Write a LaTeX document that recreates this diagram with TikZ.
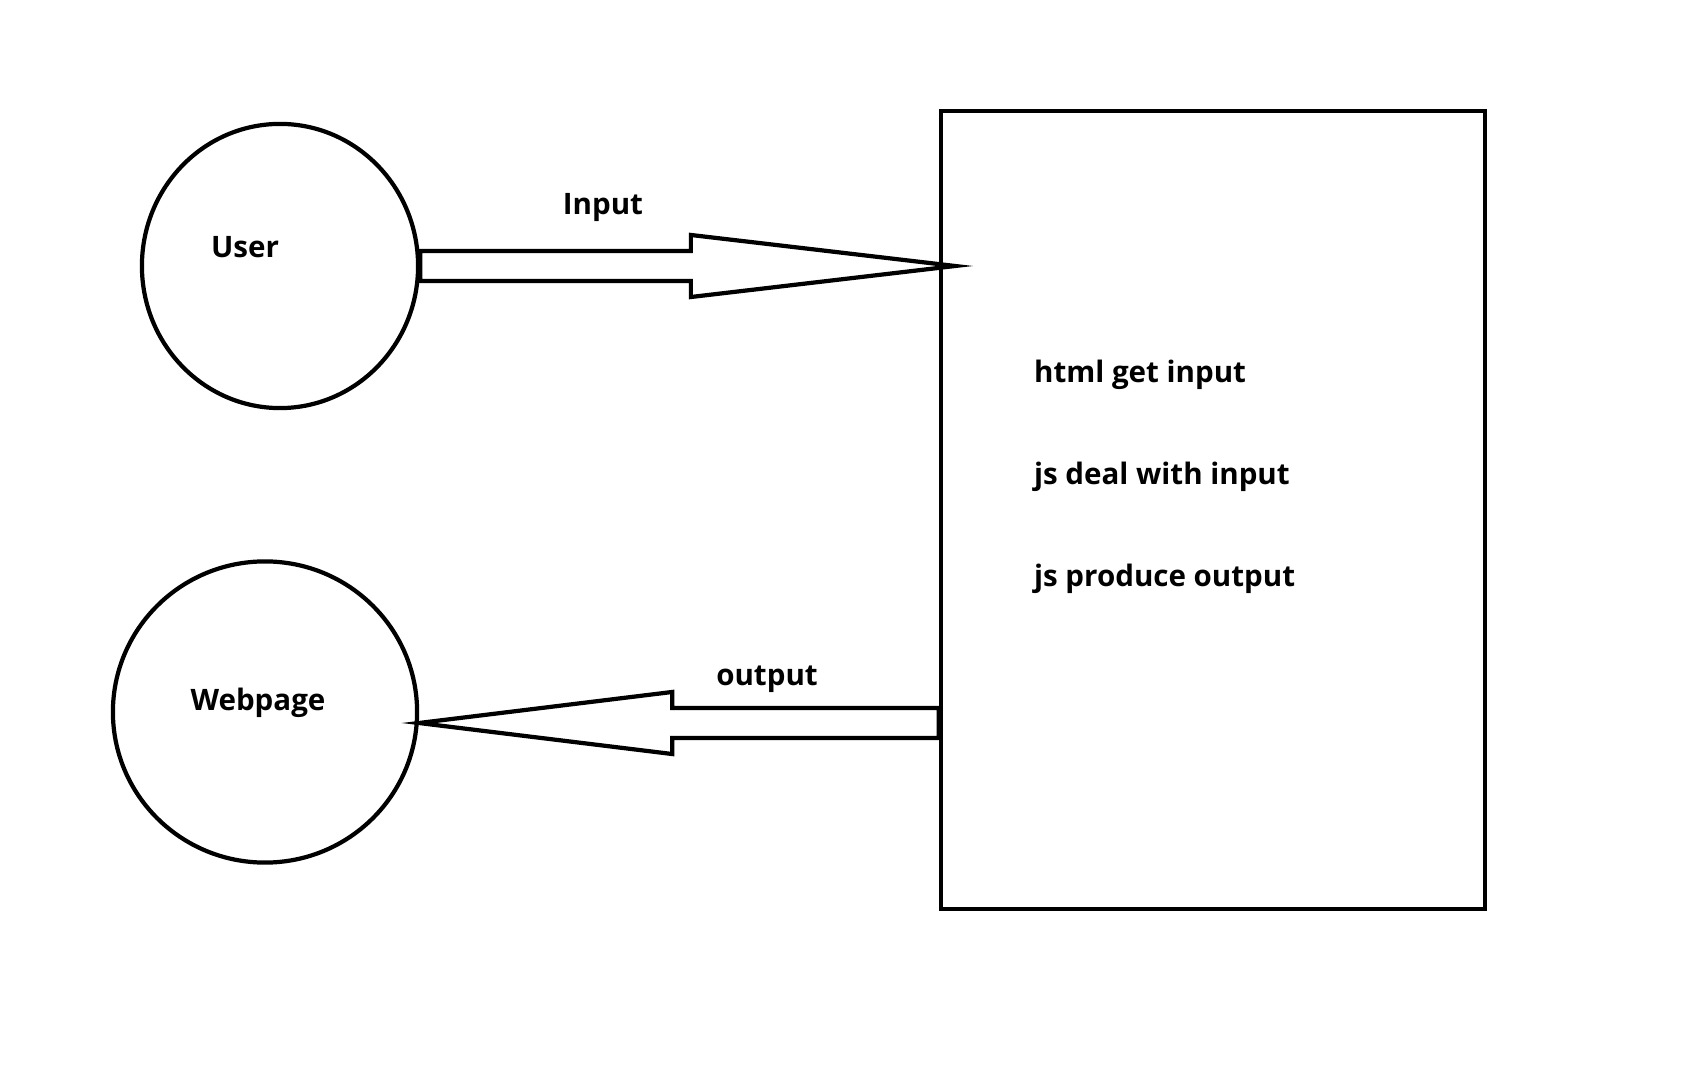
\documentclass[tikz,border=0pt]{standalone}
\usepackage{fontspec}
\setmainfont{Open Sans}
\usetikzlibrary{shapes.geometric,calc}

\tikzset{
  blockarrow/.style={to path={
    let \p1=(\tikztostart), \p2=(\tikztotarget),
        \p3=($(\p2)!#1!(\p1)$) in
    ($(\p1)!0.15cm!90:(\p2)$) -- ($(\p3)!0.15cm!90:(\p2)$)
    -- ($(\p3)!0.31cm!90:(\p2)$) -- (\p2)
    -- ($(\p3)!0.31cm!-90:(\p2)$) -- ($(\p3)!0.15cm!-90:(\p2)$)
    -- ($(\p1)!0.15cm!-90:(\p2)$) -- cycle}}
}

\begin{document}
\begin{tikzpicture}[x=0.01cm, y=-0.01cm, line width=1.2pt,
    blob/.style={draw, ellipse, inner sep=0pt},
    lbl/.style={inner sep=0pt, font=\fontsize{8.4}{10}\selectfont\bfseries}]
    \useasboundingbox (0,0) rectangle (1683,1080);
    % the two ends
    \node (user) [blob, minimum width=2.76cm, minimum height=2.84cm] at (280,266) {};
    \node (webpage) [blob, minimum width=3.04cm, minimum height=3.01cm] at (265,712) {};
    \node (userlbl) [lbl, anchor=base] at (245,258) {User};
    \node (webpagelbl) [lbl, anchor=base] at (258,710) {Webpage};

    % the page itself
    \node (page) [draw, rectangle, inner sep=0pt, minimum width=5.44cm, minimum height=7.98cm] at (1213,510) {};
    \node (html) [lbl, anchor=base west] at (1032,383) {html get input};
    \node (jsdeal) [lbl, anchor=base west] at (1032,485) {js deal with input};
    \node (jsout) [lbl, anchor=base west] at (1032,587) {js produce output};

    \coordinate (intip) at (955,266);
    \coordinate (outtip) at (419,723);
    \draw [blockarrow=2.64cm] (user.east) to (intip);
    \draw [blockarrow=2.53cm] (page.west |- outtip) to (outtip);
    \node (inlbl) [lbl, anchor=base] at (603,215) {Input};
    \node (outlbl) [lbl, anchor=base] at (767,685) {output};
\end{tikzpicture}
\end{document}
